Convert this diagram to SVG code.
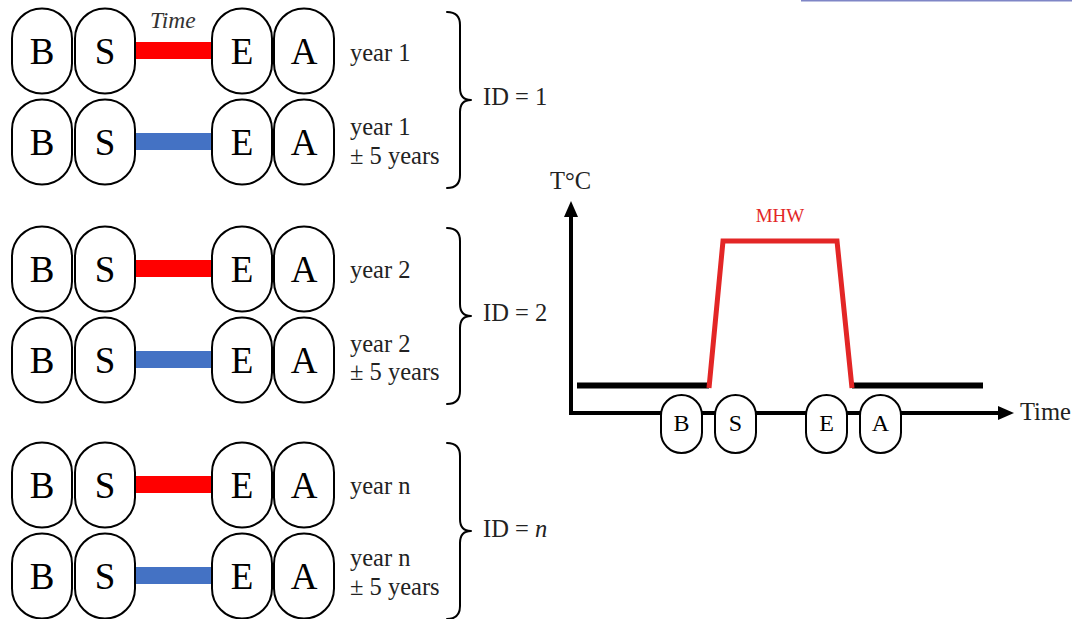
<svg xmlns="http://www.w3.org/2000/svg" width="1072" height="619" viewBox="0 0 1072 619">
  <style>
    .pill { fill: #ffffff; stroke: #000000; stroke-width: 2; }
    .big { font-family: "Liberation Serif", "Times New Roman", serif; font-size: 37px; fill: #000000; text-anchor: middle; }
    .small { font-family: "Liberation Serif", "Times New Roman", serif; font-size: 24px; fill: #000000; text-anchor: middle; }
    .lbl { font-family: "Liberation Serif", "Times New Roman", serif; font-size: 24.5px; fill: #222222; }
    .brace { fill: none; stroke: #000000; stroke-width: 2; stroke-linecap: round; stroke-linejoin: round; }
    .red { fill: #ff0000; }
    .blue { fill: #4472c4; }
  </style>
  <defs>
    <!-- B / S / E / A stadium markers for one timeline row, centred on y=0 -->
    <g id="row">
      <rect class="pill" x="12" y="-42.5" width="60" height="85" rx="30" ry="30"/>
      <rect class="pill" x="75" y="-42.5" width="60" height="85" rx="30" ry="30"/>
      <rect class="pill" x="212" y="-42.5" width="60" height="85" rx="30" ry="30"/>
      <rect class="pill" x="274" y="-42.5" width="60" height="85" rx="30" ry="30"/>
      <text class="big" x="42" y="12.5">B</text>
      <text class="big" x="105" y="12.5">S</text>
      <text class="big" x="242" y="12.5">E</text>
      <text class="big" x="304" y="12.5">A</text>
    </g>
    <!-- right curly brace, top at y=0, tip at y=88, bottom at y=176 -->
    <path id="brace" class="brace" d="M447,0 Q460,0 460,13 L460,76 Q460,88 471,88 Q460,88 460,100 L460,163 Q460,176 447,176"/>
  </defs>

  <!-- top edge rule -->
  <line x1="801" y1="0.8" x2="1072" y2="0.8" stroke="#7f86c6" stroke-width="1.6"/>

  <!-- ID = 1 -->
  <g id="group-1" transform="translate(0,51)">
    <rect class="red" x="135" y="-9" width="77" height="17"/>
    <rect class="blue" x="135" y="82" width="77" height="17"/>
    <use href="#row"/>
    <use href="#row" y="91"/>
    <text class="lbl" x="350" y="10">year 1</text>
    <text class="lbl" x="350" y="84">year 1</text>
    <text class="lbl" x="350" y="113">± 5 years</text>
    <use href="#brace" y="-39"/>
    <text class="lbl" x="483" y="54">ID = 1</text>
  </g>
  <text id="time-label" x="150" y="28" font-family="Liberation Serif, Times New Roman, serif" font-size="23.5px" font-style="italic" fill="#333333">Time</text>

  <!-- ID = 2 -->
  <g id="group-2" transform="translate(0,269)">
    <rect class="red" x="135" y="-9" width="77" height="17"/>
    <rect class="blue" x="135" y="82" width="77" height="17"/>
    <use href="#row"/>
    <use href="#row" y="91"/>
    <text class="lbl" x="350" y="9">year 2</text>
    <text class="lbl" x="350" y="83">year 2</text>
    <text class="lbl" x="350" y="111">± 5 years</text>
    <use href="#brace" y="-41"/>
    <text class="lbl" x="483" y="52">ID = 2</text>
  </g>

  <!-- ID = n -->
  <g id="group-n" transform="translate(0,485)">
    <rect class="red" x="135" y="-9" width="77" height="17"/>
    <rect class="blue" x="135" y="82" width="77" height="17"/>
    <use href="#row"/>
    <use href="#row" y="91"/>
    <text class="lbl" x="350" y="9">year n</text>
    <text class="lbl" x="350" y="81">year n</text>
    <text class="lbl" x="350" y="110">± 5 years</text>
    <use href="#brace" y="-42"/>
    <text class="lbl" x="483" y="52">ID = <tspan font-style="italic">n</tspan></text>
  </g>

  <!-- temperature chart -->
  <g id="chart-axes">
    <line x1="571" y1="214" x2="571" y2="415" stroke="#000" stroke-width="4"/>
    <line x1="569" y1="413" x2="1000" y2="413" stroke="#000" stroke-width="4"/>
    <polygon points="571,201 564,217 578,217" fill="#000"/>
    <polygon points="1014,413 998,406 998,420" fill="#000"/>
    <text class="lbl" x="550" y="189" fill="#222">T°C</text>
    <text class="lbl" x="1020" y="420" fill="#222">Time</text>
  </g>
  <g id="chart-series">
    <line x1="577" y1="385.5" x2="709" y2="385.5" stroke="#000" stroke-width="6"/>
    <line x1="852" y1="385.5" x2="983" y2="385.5" stroke="#000" stroke-width="6"/>
    <polyline points="709,388 723,241 837,241 852,388" fill="none" stroke="#e32626" stroke-width="5" stroke-linejoin="miter"/>
    <text x="780" y="222" font-family="Liberation Serif, Times New Roman, serif" font-size="19px" fill="#e32626" text-anchor="middle">MHW</text>
  </g>
  <g id="chart-B">
    <rect class="pill" x="661" y="395" width="41" height="58" rx="20.5" ry="20.5"/>
    <text class="small" x="681.5" y="431">B</text>
  </g>
  <g id="chart-S">
    <rect class="pill" x="715" y="395" width="41" height="58" rx="20.5" ry="20.5"/>
    <text class="small" x="735.5" y="431">S</text>
  </g>
  <g id="chart-E">
    <rect class="pill" x="806" y="395" width="41" height="58" rx="20.5" ry="20.5"/>
    <text class="small" x="826.5" y="431">E</text>
  </g>
  <g id="chart-A">
    <rect class="pill" x="860" y="395" width="41" height="58" rx="20.5" ry="20.5"/>
    <text class="small" x="880.5" y="431">A</text>
  </g>
</svg>
